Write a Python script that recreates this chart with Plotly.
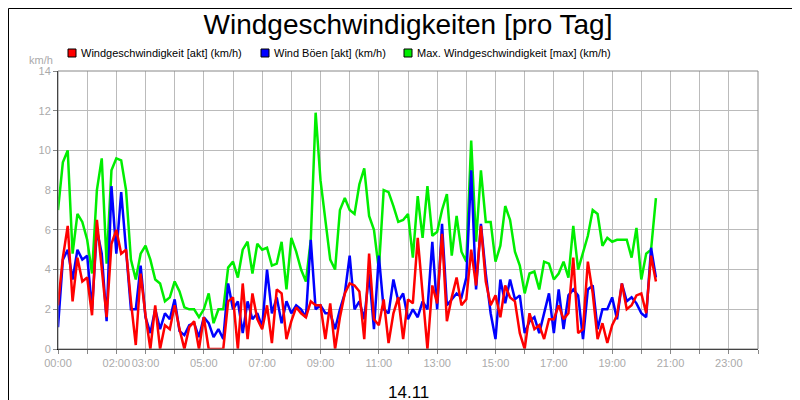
import plotly.graph_objects as go

green = [7.0,9.4,10.0,4.8,6.8,6.4,5.5,3.8,8.0,9.6,4.3,9.0,9.6,9.5,8.0,4.5,3.5,4.8,5.2,4.5,3.5,3.3,2.4,2.6,3.4,2.9,2.1,2.0,2.0,1.6,2.0,
2.8,1.3,2.0,2.0,4.1,4.4,3.6,5.0,5.4,3.8,5.3,5.0,5.1,4.2,4.3,5.4,3.0,5.6,4.9,4.0,3.4,5.5,11.9,8.5,6.5,4.5,4.0,7.0,7.6,7.0,6.8,8.3,
9.1,6.7,6.0,4.0,8.0,7.9,7.2,6.4,6.5,6.8,4.6,7.7,5.6,8.2,5.7,5.9,7.0,7.8,4.7,6.7,4.9,4.4,10.5,5.4,9.0,6.4,6.4,4.4,5.2,7.2,
6.5,4.9,4.2,2.8,3.8,3.9,3.0,4.4,4.3,3.5,3.8,4.4,3.6,6.2,4.0,4.8,5.7,7.0,6.8,5.2,5.6,5.4,5.5,5.5,5.5,4.6,6.1,3.5,4.8,5.0,7.6]
red = [2.2,4.6,6.2,2.4,4.6,3.4,3.6,1.7,6.5,4.0,1.6,5.3,6.0,4.8,5.0,2.4,0.2,3.8,1.7,0.0,2.2,0.0,1.2,1.0,2.2,1.0,0.0,1.1,1.4,0.0,1.6,
0.0,0.0,0.0,0.0,2.4,2.6,0.0,3.3,0.5,2.8,1.5,1.0,2.2,0.3,3.0,2.8,0.5,1.4,2.1,1.8,1.6,2.4,2.2,2.2,0.5,2.3,0.0,1.6,2.8,3.3,3.2,
2.9,0.5,4.8,1.5,1.2,2.5,0.3,1.8,2.6,0.5,2.5,2.3,5.6,2.8,0.0,3.2,2.3,5.8,1.4,2.6,3.6,2.2,2.5,5.0,3.2,6.2,3.4,2.2,2.7,1.6,3.2,
2.6,2.4,0.8,0.0,1.8,1.0,1.2,0.5,1.5,1.5,2.2,1.5,1.8,4.6,0.8,1.0,4.4,2.8,0.5,1.3,0.3,1.2,1.7,3.3,2.0,2.2,2.7,2.8,1.8,4.7,3.4]
blue = [1.1,4.5,5.0,3.5,5.0,4.5,4.7,2.0,6.0,4.8,1.4,8.2,4.8,7.9,5.0,2.0,2.0,4.2,1.6,0.8,2.0,1.0,1.8,1.5,2.5,0.9,0.7,1.2,1.3,0.6,1.6,
1.3,0.6,1.0,0.5,3.3,2.0,2.4,0.8,2.4,1.5,1.8,1.1,4.0,1.8,2.6,1.3,2.4,1.8,2.2,2.0,1.6,5.5,2.0,2.2,1.8,1.8,1.0,2.0,2.8,4.7,2.0,
2.4,1.5,3.8,1.0,4.7,2.0,1.8,3.5,2.4,2.8,1.5,2.0,1.6,2.4,2.0,5.4,2.0,6.3,2.2,2.5,2.8,2.6,3.6,9.0,3.0,6.3,3.8,1.8,0.5,3.5,2.3,
3.5,2.5,2.7,0.8,1.4,1.6,0.8,1.8,2.8,0.8,3.0,1.0,2.7,3.0,2.7,0.5,3.0,3.2,1.0,2.0,2.0,2.6,1.5,3.3,2.4,2.6,2.3,1.8,1.6,5.1,3.6]

tick_hours = list(range(0, 25))
tick_labels = {0: "00:00", 2: "02:00", 3: "03:00", 5: "05:00", 7: "07:00", 9: "09:00", 11: "11:00",
               13: "13:00", 15: "15:00", 17: "17:00", 19: "19:00", 21: "21:00", 23: "23:00"}
series = [("Windgeschwindigkeit [akt] (km/h)", red, "#ff0000"),
          ("Wind Böen [akt] (km/h)", blue, "#0000ff"),
          ("Max. Windgeschwindigkeit [max] (km/h)", green, "#00ee00")]

fig = go.Figure()
for name, vals, col in [series[2], series[1], series[0]]:
    hours = [i / 6 for i in range(len(vals))]
    fig.add_trace(go.Scatter(x=hours, y=vals, mode="lines", name=name,
                             line=dict(color=col, width=2.5), showlegend=False))

fig.update_layout(
    width=800, height=400, margin=dict(l=50, r=50, t=63, b=59, autoexpand=False),
    paper_bgcolor="white", plot_bgcolor="white",
    font=dict(family="Liberation Sans, Arial", size=11, color="black"),
    title=dict(text="Windgeschwindigkeiten [pro Tag]", x=0.5, xanchor="center", y=0.985, yanchor="top",
               font=dict(size=28, color="#000")),
    xaxis=dict(range=[0, 24], tickvals=tick_hours, ticktext=[tick_labels.get(h, "") for h in tick_hours],
               tickangle=0, automargin=False,
               showgrid=True, gridcolor="#bbbbbb", gridwidth=1, ticks="outside", ticklen=4, tickcolor="#888",
               tickfont=dict(color="#aaaaaa", size=11), showline=True, linecolor="black", linewidth=1, mirror=False,
               zeroline=False),
    yaxis=dict(range=[0, 14], dtick=2, showgrid=True, gridcolor="#bbbbbb", gridwidth=1, ticks="outside",
               automargin=False,
               ticklen=4, tickcolor="#888", tickfont=dict(color="#aaaaaa", size=11), showline=True,
               linecolor="black", linewidth=1, zeroline=False),
    shapes=[
        dict(type="rect", xref="paper", yref="paper", x0=0, x1=1, y0=0, y1=1, line=dict(color="#888", width=1)),
        dict(type="rect", xref="paper", yref="paper", x0=-49.5/700, x1=749.5/700, y0=-58.5/278, y1=340.5/278,
             line=dict(color="black", width=1)),
    ],
    annotations=[
        dict(text="km/h", xref="paper", yref="paper", x=-0.005, y=1.07, xanchor="right", showarrow=False,
             font=dict(color="#aaaaaa", size=11)),
        dict(text="14.11", xref="paper", yref="paper", x=0.5, y=-0.115, yanchor="top", showarrow=False,
             font=dict(size=17)),
    ],
)
leg_x = [60, 253, 396]
for (name, vals, col), lx in zip(series, leg_x):
    fig.add_shape(type="rect", xref="paper", yref="paper",
                  x0=(lx - 50) / 700, x1=(lx - 50 + 8) / 700,
                  y0=(341 - 49) / 278, y1=(341 - 41) / 278,
                  fillcolor=col, line=dict(color="black", width=1))
    fig.add_annotation(text=name, xref="paper", yref="paper", x=(lx - 50 + 11) / 700, y=(341 - 45) / 278,
                       xanchor="left", yanchor="middle", showarrow=False, font=dict(size=11))

fig.write_html("out.html")
